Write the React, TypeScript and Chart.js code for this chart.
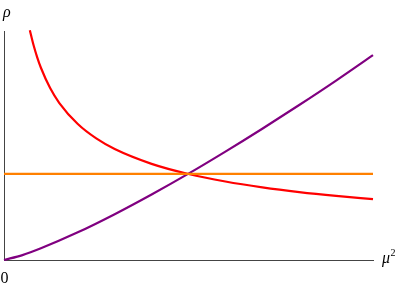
import React, { useEffect, useRef } from "react";
import { Chart, registerables } from "chart.js";

Chart.register(...registerables);

// mu^2 values (x) and rho values (y)
const purpleX = [0, 0.5, 1, 2, 3, 4, 5, 6, 7, 8, 9, 10];
const purpleY = [0, 0.057, 0.136, 0.321, 0.532, 0.761, 1.003, 1.259, 1.525, 1.8, 2.084, 2.38];

const redX = [0.7, 0.8, 0.9, 1, 1.25, 1.5, 2, 2.5, 3, 4, 5, 6, 7, 8, 9, 10];
const redY = [2.669, 2.497, 2.354, 2.233, 1.997, 1.823, 1.579, 1.412, 1.289, 1.117, 0.999, 0.912, 0.844, 0.789, 0.744, 0.706];

const orangeX = [0, 10];
const orangeY = [1, 1];

const xMin = 0;
const xMax = 10;
const yMin = 0;
const yMax = 2.66;

const toPts = (xs: number[], ys: number[]) => xs.map((x, i) => ({ x, y: ys[i] }));

const labelsPlugin = {
  id: "axisLabels",
  afterDraw(chart: any) {
    const ctx = chart.ctx;
    ctx.save();
    ctx.fillStyle = "#000";
    ctx.textBaseline = "alphabetic";
    ctx.textAlign = "left";
    ctx.font = 'italic 16px "Liberation Serif", "DejaVu Serif", serif';
    ctx.fillText("ρ", 3, 17);
    ctx.fillText("μ", 382, 263);
    ctx.font = '10px "Liberation Serif", "DejaVu Serif", serif';
    ctx.fillText("2", 390.5, 256);
    ctx.font = '16px "Liberation Serif", "DejaVu Serif", serif';
    ctx.textAlign = "center";
    ctx.fillText("0", 4.5, 283);
    ctx.restore();
  },
};

export default function App() {
  const ref = useRef<HTMLCanvasElement | null>(null);
  useEffect(() => {
    if (!ref.current) return;
    const chart = new Chart(ref.current, {
      type: "line",
      data: {
        datasets: [
          {
            data: toPts(orangeX, orangeY),
            borderColor: "#ff8000",
            borderWidth: 2.2,
            pointRadius: 0,
            fill: false,
          },
          {
            data: toPts(redX, redY),
            borderColor: "#ff0000",
            borderWidth: 2.2,
            pointRadius: 0,
            cubicInterpolationMode: "monotone",
            fill: false,
          },
          {
            data: toPts(purpleX, purpleY),
            borderColor: "#800080",
            borderWidth: 2.2,
            pointRadius: 0,
            cubicInterpolationMode: "monotone",
            fill: false,
          },
        ],
      },
      options: {
        animation: false,
        responsive: false,
        clip: false as any,
        layout: { padding: { left: 4, right: 26, top: 31, bottom: 28 } },
        plugins: { legend: { display: false }, tooltip: { enabled: false } },
        scales: {
          x: {
            type: "linear",
            min: xMin,
            max: xMax,
            grid: { display: false, drawTicks: false },
            ticks: { display: false },
            border: { display: true, color: "#444", width: 1 },
            afterFit: (s: any) => {
              s.height = 0;
            },
          },
          y: {
            type: "linear",
            min: yMin,
            max: yMax,
            grid: { display: false, drawTicks: false },
            ticks: { display: false },
            border: { display: true, color: "#444", width: 1 },
            afterFit: (s: any) => {
              s.width = 0;
            },
          },
        },
      },
      plugins: [labelsPlugin],
    });
    return () => chart.destroy();
  }, []);
  return (
    <div style={{ position: "fixed", left: 0, top: 0, width: 399, height: 288, background: "#fff" }}>
      <canvas ref={ref} width={399} height={288} style={{ width: 399, height: 288 }} />
    </div>
  );
}
